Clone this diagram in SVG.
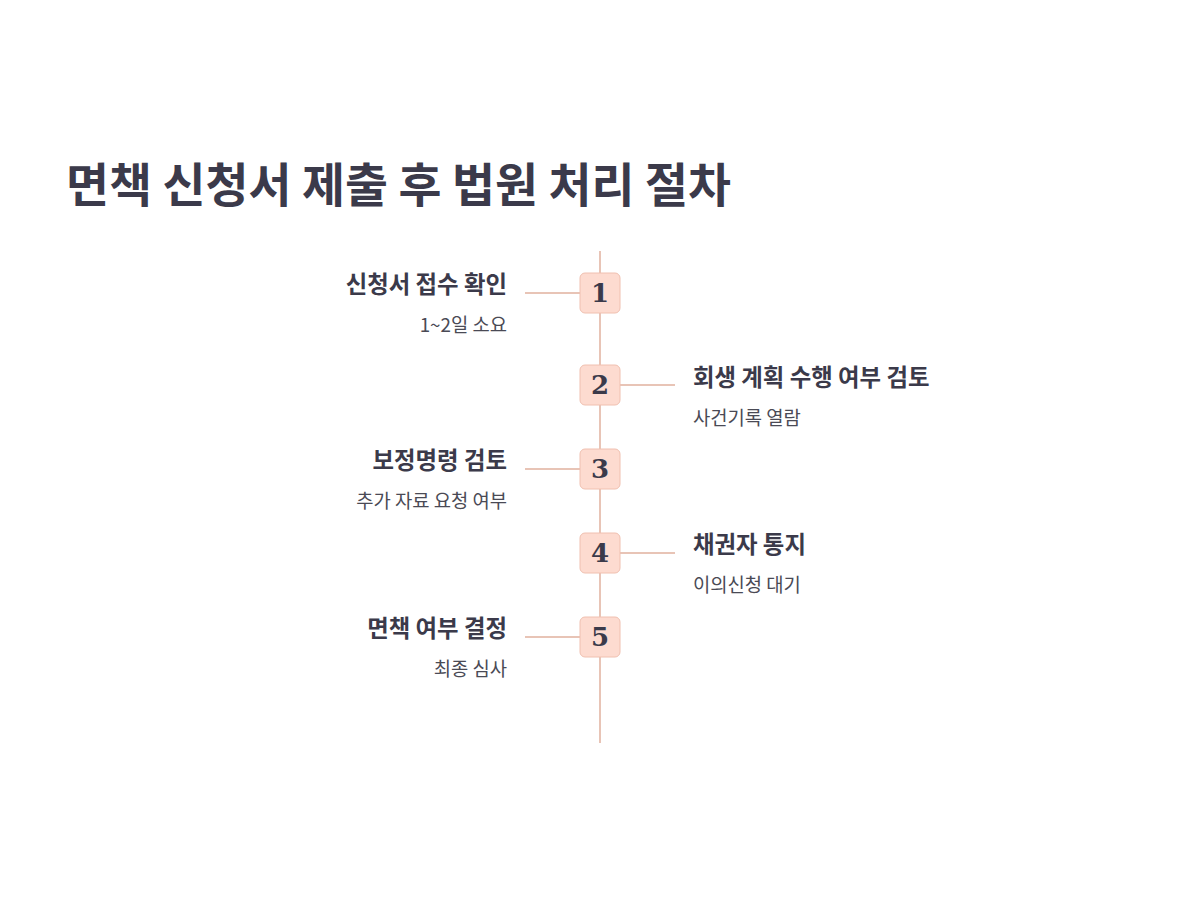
<svg xmlns="http://www.w3.org/2000/svg" width="1200" height="900" viewBox="0 0 1200 900">
<style>
.title{font-family:"Noto Sans CJK KR","Noto Sans",sans-serif;font-weight:700;font-size:46.7px;fill:#3b3a4a}
.h{font-family:"Noto Sans CJK KR","Noto Sans",sans-serif;font-weight:700;font-size:23.4px;fill:#3b3a4a}
.s{font-family:"Noto Sans CJK KR","Noto Sans",sans-serif;font-size:18.8px;fill:#4a4a55}
.box{fill:#fddbd0;stroke:#f0c0b0;stroke-width:1}
.num{font-family:"DejaVu Serif","Liberation Serif",serif;font-weight:700;font-size:26px;fill:#3b3a4a;text-anchor:middle}
.ln{stroke:#e8c4b6;stroke-width:2;fill:none}
.l{text-anchor:end}
</style>
<rect width="1200" height="900" fill="#ffffff"/>
<text class="title" x="66" y="202">면책 신청서 제출 후 법원 처리 절차</text>
<g id="connectors">
<line class="ln" x1="600" y1="251" x2="600" y2="743"/>
<line class="ln" x1="525" y1="293" x2="580" y2="293"/>
<line class="ln" x1="620" y1="385" x2="675" y2="385"/>
<line class="ln" x1="525" y1="469" x2="580" y2="469"/>
<line class="ln" x1="620" y1="553" x2="675" y2="553"/>
<line class="ln" x1="525" y1="637" x2="580" y2="637"/>
</g>
<g id="step1">
<rect class="box" x="580" y="273" width="40" height="40" rx="5"/>
<text class="num" x="600" y="302">1</text>
<text class="h l" x="507" y="293">신청서 접수 확인</text>
<text class="s l" x="507" y="332">1~2일 소요</text>
</g>
<g id="step2">
<rect class="box" x="580" y="365" width="40" height="40" rx="5"/>
<text class="num" x="600" y="394">2</text>
<text class="h" x="693" y="386">회생 계획 수행 여부 검토</text>
<text class="s" x="693" y="425">사건기록 열람</text>
</g>
<g id="step3">
<rect class="box" x="580" y="449" width="40" height="40" rx="5"/>
<text class="num" x="600" y="478">3</text>
<text class="h l" x="507" y="469">보정명령 검토</text>
<text class="s l" x="507" y="508">추가 자료 요청 여부</text>
</g>
<g id="step4">
<rect class="box" x="580" y="533" width="40" height="40" rx="5"/>
<text class="num" x="600" y="562">4</text>
<text class="h" x="693" y="553">채권자 통지</text>
<text class="s" x="693" y="592">이의신청 대기</text>
</g>
<g id="step5">
<rect class="box" x="580" y="617" width="40" height="40" rx="5"/>
<text class="num" x="600" y="646">5</text>
<text class="h l" x="507" y="637">면책 여부 결정</text>
<text class="s l" x="507" y="676">최종 심사</text>
</g>
</svg>
